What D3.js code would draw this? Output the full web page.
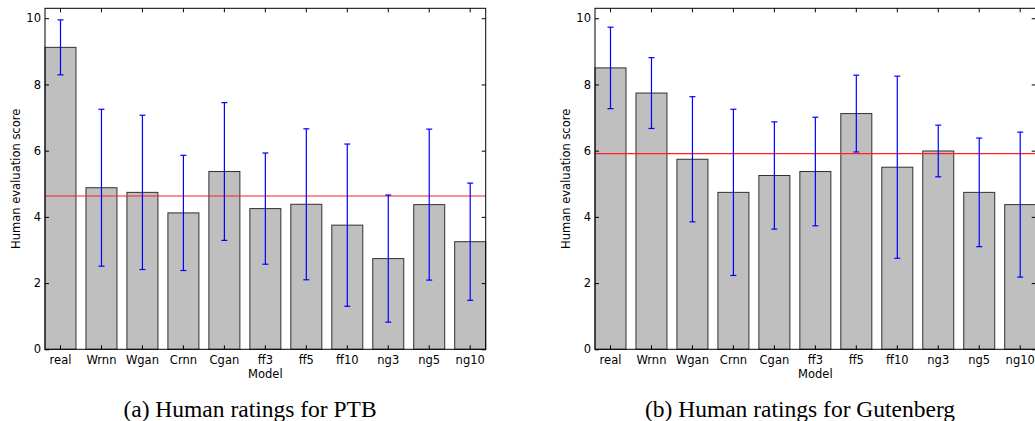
<!DOCTYPE html>
<html>
<head>
<meta charset="utf-8">
<script src="https://cdn.jsdelivr.net/npm/d3@7/dist/d3.min.js"></script>
<style>
  html, body { margin: 0; padding: 0; background: #fff; }
  svg { display: block; }
  .tick text { font-family: "DejaVu Sans", sans-serif; }
</style>
</head>
<body>
<svg id="chart" width="1035" height="421"></svg>
<script>
const categories = ["real", "Wrnn", "Wgan", "Crnn", "Cgan", "ff3", "ff5", "ff10", "ng3", "ng5", "ng10"];
const yTicks = [0, 2, 4, 6, 8, 10];

const ptbMeans = [9.12, 4.88, 4.74, 4.12, 5.37, 4.25, 4.38, 3.75, 2.74, 4.37, 3.25];
const ptbErrors = [0.83, 2.37, 2.33, 1.74, 2.08, 1.68, 2.28, 2.45, 1.92, 2.28, 1.77];
const ptbBaseline = 4.63;

const gutMeans = [8.50, 7.74, 5.74, 4.74, 5.25, 5.37, 7.12, 5.50, 5.99, 4.74, 4.37];
const gutErrors = [1.23, 1.07, 1.89, 2.51, 1.62, 1.64, 1.16, 2.75, 0.78, 1.64, 2.19];
const gutBaseline = 5.91;

const panels = [
  { left: 45, means: ptbMeans, errors: ptbErrors, baseline: ptbBaseline, caption: "(a) Human ratings for PTB" },
  { left: 595, means: gutMeans, errors: gutErrors, baseline: gutBaseline, caption: "(b) Human ratings for Gutenberg" }
];

const svg = d3.select("#chart");
const plotW = 440.7, plotTop = 8.3, plotBottom = 349.3;

panels.forEach(p => {
  const g = svg.append("g");
  const x = d3.scaleBand().domain(categories).range([p.left, p.left + plotW]).paddingInner(0.2434).paddingOuter(0);
  const y = d3.scaleLinear().domain([0, 10.3]).range([plotBottom, plotTop]);
  const data = categories.map((c, i) => ({ c, m: p.means[i], e: p.errors[i] }));

  g.selectAll("rect.bar").data(data).enter().append("rect")
    .attr("class", "bar")
    .attr("x", d => x(d.c))
    .attr("y", d => y(d.m))
    .attr("width", x.bandwidth())
    .attr("height", d => y(0) - y(d.m))
    .attr("fill", "#bfbfbf")
    .attr("stroke", "#303030")
    .attr("stroke-width", 1);

  g.append("line")
    .attr("x1", p.left).attr("x2", p.left + plotW)
    .attr("y1", y(p.baseline)).attr("y2", y(p.baseline))
    .attr("stroke", "#ff2020").attr("stroke-width", 1.1);

  const eb = g.selectAll("g.err").data(data).enter().append("g").attr("class", "err");
  const cx = d => x(d.c) + x.bandwidth() / 2;
  eb.append("line")
    .attr("x1", cx).attr("x2", cx)
    .attr("y1", d => y(d.m + d.e)).attr("y2", d => y(d.m - d.e))
    .attr("stroke", "#0000ff").attr("stroke-width", 1.2);
  [1, -1].forEach(s => {
    eb.append("line")
      .attr("x1", d => cx(d) - 3).attr("x2", d => cx(d) + 3)
      .attr("y1", d => y(d.m + s * d.e)).attr("y2", d => y(d.m + s * d.e))
      .attr("stroke", "#0000ff").attr("stroke-width", 1.2);
  });

  const fs = "11.5px";
  const xb = g.append("g").attr("transform", `translate(0,${plotBottom})`)
    .call(d3.axisBottom(x).tickSize(-4).tickPadding(7).tickSizeOuter(0));
  const xt = g.append("g").attr("transform", `translate(0,${plotTop})`)
    .call(d3.axisTop(x).tickSize(-4).tickFormat("").tickSizeOuter(0));
  const yl = g.append("g").attr("transform", `translate(${p.left},0)`)
    .call(d3.axisLeft(y).tickValues(yTicks).tickSize(-4).tickPadding(4).tickSizeOuter(0));
  const yr = g.append("g").attr("transform", `translate(${p.left + plotW},0)`)
    .call(d3.axisRight(y).tickValues(yTicks).tickSize(-4).tickFormat("").tickSizeOuter(0));
  [xb, xt, yl, yr].forEach(a => {
    a.select(".domain").remove();
    a.selectAll(".tick line").attr("stroke", "#000").attr("stroke-width", 1);
    a.selectAll(".tick text").attr("font-size", fs).attr("fill", "#000");
  });

  g.append("rect")
    .attr("x", p.left).attr("y", plotTop)
    .attr("width", plotW).attr("height", plotBottom - plotTop)
    .attr("fill", "none").attr("stroke", "#000").attr("stroke-width", 1);

  g.append("text")
    .attr("x", p.left + plotW / 2).attr("y", 378)
    .attr("text-anchor", "middle")
    .attr("font-family", "DejaVu Sans, sans-serif").attr("font-size", fs)
    .text("Model");
  g.append("text")
    .attr("transform", `translate(${p.left - 25},${(plotTop + plotBottom) / 2}) rotate(-90)`)
    .attr("text-anchor", "middle")
    .attr("font-family", "DejaVu Sans, sans-serif").attr("font-size", fs)
    .text("Human evaluation score");

  g.append("text")
    .attr("x", p.left + 205).attr("y", 417)
    .attr("text-anchor", "middle")
    .attr("font-family", "Liberation Serif, Times New Roman, serif").attr("font-size", "23.5px")
    .text(p.caption);
});
</script>
</body>
</html>
